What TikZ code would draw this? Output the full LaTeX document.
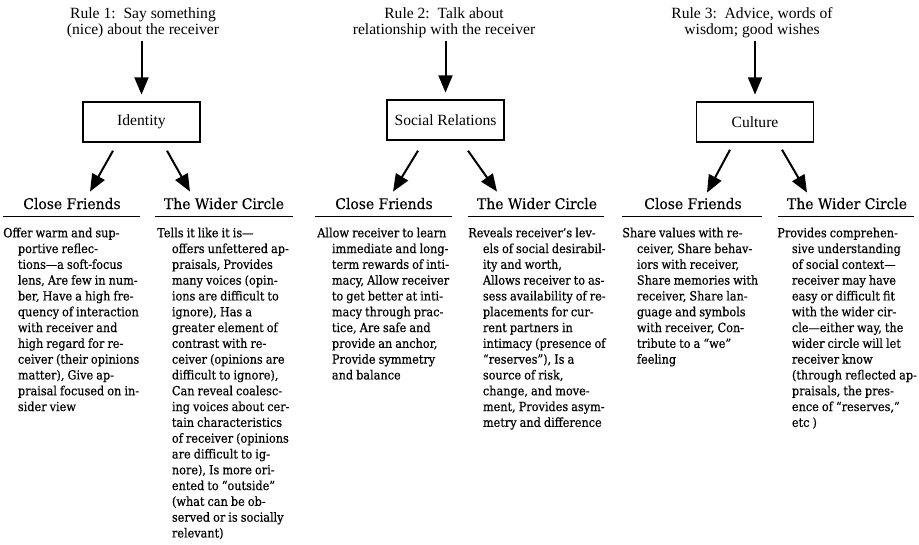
\documentclass[tikz,border=0pt]{standalone}
\usepackage{fontspec}
\setmainfont{Liberation Serif}
\newfontfamily\bodyf[FakeStretch=0.9,WordSpace=0.85,FakeBold=0.4]{DejaVu Serif}
\newfontfamily\headf[FakeStretch=0.95,FakeBold=0.3]{DejaVu Serif}
\usetikzlibrary{arrows.meta,calc}
\newcommand\nl{\\\hspace*{11pt}}
\begin{document}
\begin{tikzpicture}[x=0.75pt,y=-0.75pt,
  ruletext/.style={align=center,inner sep=0pt,anchor=north,font=\fontsize{11.7}{12}\selectfont},
  catbox/.style={draw,line width=1.1pt,minimum width=87.75pt,minimum height=30pt,inner sep=0pt,font=\fontsize{11.7}{12}\selectfont},
  arr/.style={line width=1.5pt,-{Triangle[length=13pt,width=10.5pt]}},
  colhead/.style={inner sep=0pt,anchor=base,font=\headf\fontsize{11}{12}\selectfont},
  headline/.style={line width=0.8pt},
  bodytext/.style={align=left,inner sep=0pt,anchor=north west,font=\bodyf\fontsize{9.4}{11.85}\selectfont}]
\fill[white] (0,0) rectangle (919,544);
\useasboundingbox (0,0) rectangle (919,544);

% rules
\node[ruletext] (r1) at (143,6.8) {\strut Rule 1:\ \ Say something\\(nice) about the receiver};
\node[ruletext] (r2) at (444,6.8) {\strut Rule 2:\ \ Talk about\\relationship with the receiver};
\node[ruletext] (r3) at (752,6.8) {\strut Rule 3:\ \ Advice, words of\\wisdom; good wishes};

% boxes
\node[catbox] (id) at (141.5,122) {Identity};
\node[catbox] (sr) at (445.5,120) {Social Relations};
\node[catbox] (cu) at (755,122) {Culture};

\draw[arr,shorten <=2pt,shorten >=5pt] (r1.south -| id.north) -- (id.north);
\draw[arr,shorten <=2pt,shorten >=5pt] (r2.south -| sr.north) -- (sr.north);
\draw[arr,shorten <=2pt,shorten >=5pt] (r3.south -| cu.north) -- (cu.north);

% column headers
\node[colhead] (cf1) at (72,209) {Close Friends};
\node[colhead] (wc1) at (224,209) {The Wider Circle};
\node[colhead] (cf2) at (384,209) {Close Friends};
\node[colhead] (wc2) at (537,209) {The Wider Circle};
\node[colhead] (cf3) at (693,209) {Close Friends};
\node[colhead] (wc3) at (847,209) {The Wider Circle};

\draw[headline] (3,216.5) -- (140,216.5);
\draw[headline] (155,216.5) -- (293,216.5);
\draw[headline] (315,216.5) -- (452,216.5);
\draw[headline] (468,216.5) -- (604,216.5);
\draw[headline] (622,216.5) -- (762,216.5);
\draw[headline] (778,216.5) -- (914,216.5);

% diagonal arrows
\draw[arr] ($(id.south)+(-28.5,8)$) -- ($(cf1.north)+(18,-6)$);
\draw[arr] ($(id.south)+(25.5,8)$) -- ($(wc1.north)+(-34,-6)$);
\draw[arr] ($(sr.south)+(-27.5,10)$) -- ($(cf2.north)+(9,-6)$);
\draw[arr] ($(sr.south)+(22.5,10)$) -- ($(wc2.north)+(-40,-6)$);
\draw[arr] ($(cu.south)+(-25,7)$) -- ($(cf3.north)+(14,-5)$);
\draw[arr] ($(cu.south)+(27,7)$) -- ($(wc3.north)+(-40,-5)$);

% body texts
\node[bodytext] (t1) at (3,225.9) {\strut Offer warm and sup-\nl portive reflec-\nl tions—a soft-focus\nl lens, Are few in num-\nl ber, Have a high fre-\nl quency of interaction\nl with receiver and\nl high regard for re-\nl ceiver (their opinions\nl matter), Give ap-\nl praisal focused on in-\nl sider view};

\node[bodytext] (t2) at (157,225.9) {\strut Tells it like it is—\nl offers unfettered ap-\nl praisals, Provides\nl many voices (opin-\nl ions are difficult to\nl ignore), Has a\nl greater element of\nl contrast with re-\nl ceiver (opinions are\nl difficult to ignore),\nl Can reveal coalesc-\nl ing voices about cer-\nl tain characteristics\nl of receiver (opinions\nl are difficult to ig-\nl nore), Is more ori-\nl ented to “outside”\nl (what can be ob-\nl served or is socially\nl relevant)};

\node[bodytext] (t3) at (317,225.9) {\strut Allow receiver to learn\nl immediate and long-\nl term rewards of inti-\nl macy, Allow receiver\nl to get better at inti-\nl macy through prac-\nl tice, Are safe and\nl provide an anchor,\nl Provide symmetry\nl and balance};

\node[bodytext] (t4) at (468,225.9) {\strut Reveals receiver’s lev-\nl els of social desirabil-\nl ity and worth,\nl Allows receiver to as-\nl sess availability of re-\nl placements for cur-\nl rent partners in\nl intimacy (presence of\nl “reserves”), Is a\nl source of risk,\nl change, and move-\nl ment, Provides asym-\nl metry and difference};

\node[bodytext] (t5) at (622,225.9) {\strut Share values with re-\nl ceiver, Share behav-\nl iors with receiver,\nl Share memories with\nl receiver, Share lan-\nl guage and symbols\nl with receiver, Con-\nl tribute to a “we”\nl feeling};

\node[bodytext] (t6) at (777,225.9) {\strut Provides comprehen-\nl sive understanding\nl of social context—\nl receiver may have\nl easy or difficult fit\nl with the wider cir-\nl cle—either way, the\nl wider circle will let\nl receiver know\nl (through reflected ap-\nl praisals, the pres-\nl ence of “reserves,”\nl etc )};
\end{tikzpicture}
\end{document}
